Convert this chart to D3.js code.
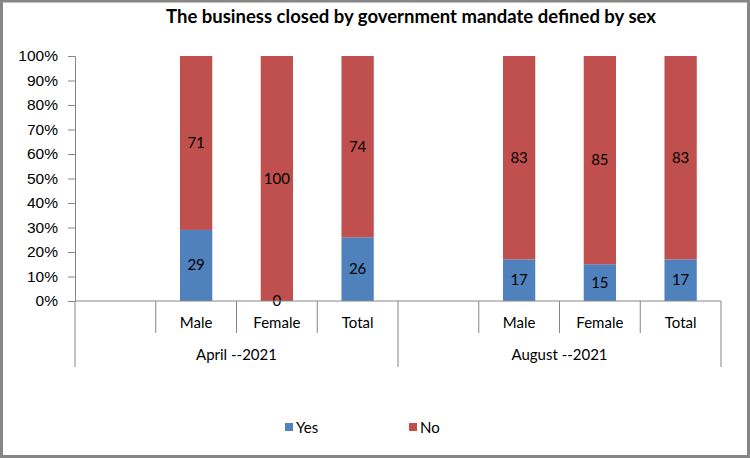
<!DOCTYPE html>
<html>
<head>
<meta charset="utf-8">
<script src="https://cdn.jsdelivr.net/npm/d3@7"></script>
<style>
  body { margin: 0; background: #fff; }
  svg { font-family: Lato, "Liberation Sans", sans-serif; display: block; }
</style>
</head>
<body>
<svg id="chart"></svg>
<script>
// categories (blank slot at the start of each period, like the original)
const periods = ["April --2021", "August --2021"];
const sexes = ["", "Male", "Female", "Total"];
const seriesNames = ["Yes", "No"];
const yesValues = [null, 29, 0, 26, null, 17, 15, 17];
const noValues = [null, 71, 100, 74, null, 83, 85, 83];
const yTicks = [0, 0.1, 0.2, 0.3, 0.4, 0.5, 0.6, 0.7, 0.8, 0.9, 1];

const width = 750, height = 458;
const margin = { top: 56, right: 29, bottom: 157, left: 75 };
const colors = { Yes: "#4F81BD", No: "#C0504D" };
const axisColor = "#868686";

const svg = d3.select("#chart").attr("width", width).attr("height", height);

svg.append("rect")
  .attr("x", 1.5).attr("y", 1).attr("width", width - 3).attr("height", height - 2.5)
  .attr("fill", "#fff").attr("stroke", axisColor).attr("stroke-width", 3);

svg.append("text")
  .attr("x", 411).attr("y", 23)
  .attr("text-anchor", "middle")
  .style("font-weight", "bold").style("font-size", "18.5px")
  .text("The business closed by government mandate defined by sex");

// flat list of category keys
const cats = [];
periods.forEach((p, i) => sexes.forEach((s, j) => cats.push({ period: p, sex: s, key: i + "-" + j })));

const x = d3.scaleBand()
  .domain(cats.map(d => d.key))
  .range([margin.left, width - margin.right])
  .paddingInner(0.6).paddingOuter(0.3);
const step = x.step();
const x0 = margin.left;

const y = d3.scaleLinear().domain([0, 1]).range([height - margin.bottom, margin.top]);

// y axis
const yAxis = svg.append("g")
  .attr("transform", `translate(${margin.left},0)`)
  .call(d3.axisLeft(y).tickValues(yTicks).tickFormat(d3.format(".0%")).tickSize(7).tickPadding(10));
yAxis.select(".domain").attr("stroke", axisColor);
yAxis.selectAll(".tick line").attr("stroke", axisColor);
yAxis.selectAll("text").style("font-size", "15.5px").attr("fill", "#000").attr("font-family", null);

// stacked data
const data = cats.map((c, i) => ({ key: c.key, Yes: yesValues[i], No: noValues[i] }))
  .filter(d => d.Yes !== null);
const stack = d3.stack().keys(seriesNames).offset(d3.stackOffsetExpand);
const layers = stack(data);

const bw = step * 0.4;
layers.forEach(layer => {
  svg.append("g").selectAll("rect").data(layer).enter().append("rect")
    .attr("x", d => x(d.data.key) + x.bandwidth() / 2 - bw / 2)
    .attr("width", bw)
    .attr("y", d => y(d[1]))
    .attr("height", d => y(d[0]) - y(d[1]))
    .attr("fill", colors[layer.key]);
});
// labels drawn after every bar so the zero label stays visible
layers.forEach(layer => {
  svg.append("g").selectAll("text").data(layer).enter().append("text")
    .attr("x", d => x(d.data.key) + x.bandwidth() / 2)
    .attr("y", d => (y(d[0]) + y(d[1])) / 2 + 5)
    .attr("text-anchor", "middle")
    .style("font-size", "15px")
    .attr("fill", "#000")
    .text(d => d.data[layer.key]);
});

// x axis: baseline and category separators
const base = y(0);
svg.append("line")
  .attr("x1", x0).attr("x2", width - margin.right)
  .attr("y1", base).attr("y2", base)
  .attr("stroke", axisColor);

cats.forEach((c, i) => {
  const xs = x0 + step * i;
  const first = i % sexes.length === 0;
  svg.append("line")
    .attr("x1", xs).attr("x2", xs)
    .attr("y1", base).attr("y2", first ? base + 66 : base + 32)
    .attr("stroke", axisColor);
  svg.append("text")
    .attr("x", xs + step / 2).attr("y", base + 27)
    .attr("text-anchor", "middle").style("font-size", "15px")
    .text(c.sex);
});
svg.append("line")
  .attr("x1", width - margin.right).attr("x2", width - margin.right)
  .attr("y1", base).attr("y2", base + 66)
  .attr("stroke", axisColor);

periods.forEach((p, i) => {
  const gx = x0 + step * sexes.length * i + step * sexes.length / 2;
  svg.append("text")
    .attr("x", gx).attr("y", base + 59)
    .attr("text-anchor", "middle").style("font-size", "15px")
    .text(p);
});

// legend
const legendX = [285, 409];
seriesNames.forEach((s, i) => {
  svg.append("rect")
    .attr("x", legendX[i]).attr("y", 423).attr("width", 8).attr("height", 8)
    .attr("fill", colors[s]);
  svg.append("text")
    .attr("x", legendX[i] + 11).attr("y", 433)
    .style("font-size", "15px")
    .text(s);
});
</script>
</body>
</html>
